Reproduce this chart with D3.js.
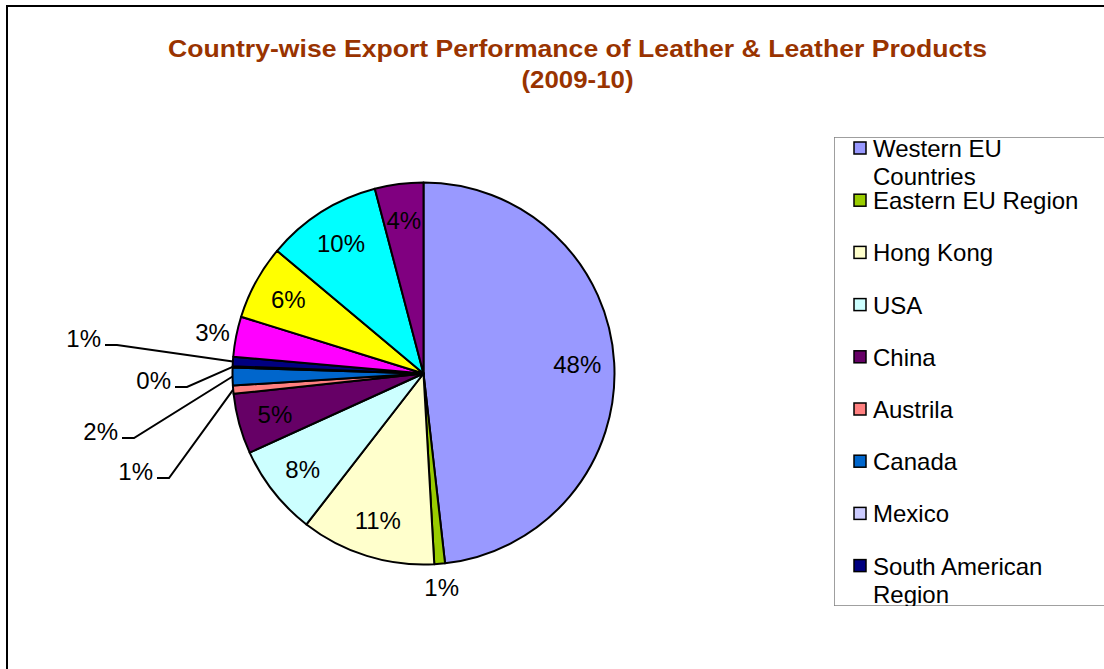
<!DOCTYPE html>
<html>
<head>
<meta charset="utf-8">
<script src="https://cdn.jsdelivr.net/npm/d3@7"></script>
<style>
  body { margin: 0; background: #fff; }
  svg { display: block; font-family: "Liberation Sans", Arial, sans-serif; }
</style>
</head>
<body>
<div id="chart-area"></div>
<script>
// data (percent share of exports)
const categories = ['Western EU Countries', 'Eastern EU Region', 'Hong Kong', 'USA', 'China',
    'Austrila', 'Canada', 'Mexico', 'South American Region', 'UAE', 'Japan',
    'Other Asian Countries', 'Others'];
const shares = [48.2, 0.9, 11.4, 7.7, 5.1, 0.7, 1.5, 0.1, 0.8, 3.4, 6.3, 9.8, 4.1];
const colors = ['#9999ff', '#99cc00', '#ffffcc', '#ccffff', '#660066', '#ff8080', '#0066cc',
    '#ccccff', '#000080', '#ff00ff', '#ffff00', '#00ffff', '#800080'];
const titleLines = ['Country-wise Export Performance of Leather & Leather Products', '(2009-10)'];

const width = 1104, height = 669;
const cx = 423.5, cy = 373.5, radius = 191;

// where excel put the labels that didn't fit inside
const outside = ['Eastern EU Region', 'UAE'];
const leaders = {
    'South American Region': [105, 345],
    'Mexico': [175, 387],
    'Canada': [122, 438],
    'Austrila': [157, 478]
};

const svg = d3.select('#chart-area')
    .append('svg')
        .attr('width', width)
        .attr('height', height);

// outer chart border
svg.append('rect')
    .attr('x', 7).attr('y', 6)
    .attr('width', width + 10).attr('height', height + 10)
    .attr('fill', 'none')
    .attr('stroke', '#000')
    .attr('stroke-width', 2);

// title
svg.selectAll('.title')
    .data(titleLines)
    .enter().append('text')
        .attr('class', 'title')
        .attr('x', 577.5)
        .attr('y', (d, i) => 57 + i * 31)
        .attr('text-anchor', 'middle')
        .attr('font-size', '24px')
        .attr('font-weight', 'bold')
        .attr('fill', '#993300')
        .attr('textLength', (d, i) => i === 0 ? 819 : 112)
        .attr('lengthAdjust', 'spacingAndGlyphs')
        .text(d => d);

const data = categories.map((c, i) => ({name: c, value: shares[i], color: colors[i]}));

const pie = d3.pie()
    .sort(null)
    .value(d => d.value);

const arc = d3.arc()
    .innerRadius(0)
    .outerRadius(radius);

const arcs = pie(data);

const g = svg.append('g')
    .attr('transform', `translate(${cx}, ${cy})`);

g.selectAll('path')
    .data(arcs)
    .enter().append('path')
        .attr('d', arc)
        .attr('fill', d => d.data.color)
        .attr('stroke', '#000')
        .attr('stroke-width', 2)
        .attr('stroke-linejoin', 'round');

const pct = d => Math.round(d.data.value) + '%';
const polar = (r, a) => [r * Math.sin(a), -r * Math.cos(a)];
const mid = d => (d.startAngle + d.endAngle) / 2;

// inside / outside labels
g.selectAll('.pct')
    .data(arcs.filter(d => !leaders[d.data.name]))
    .enter().append('text')
        .attr('class', 'pct')
        .attr('transform', d => {
            const r = outside.includes(d.data.name) ? radius + 24 : 154;
            const [x, y] = polar(r, mid(d));
            return `translate(${x}, ${y})`;
        })
        .attr('dy', '0.36em')
        .attr('text-anchor', 'middle')
        .attr('font-size', '24px')
        .attr('fill', '#000')
        .text(pct);

// labels with leader lines
const led = arcs.filter(d => leaders[d.data.name]);

g.selectAll('.leader')
    .data(led)
    .enter().append('polyline')
        .attr('class', 'leader')
        .attr('fill', 'none')
        .attr('stroke', '#000')
        .attr('stroke-width', 2)
        .attr('points', d => {
            const [lx, ly] = leaders[d.data.name];
            const [ex, ey] = polar(radius, mid(d));
            return [[lx - cx, ly - cy], [lx - cx + 12, ly - cy], [ex, ey]].join(' ');
        });

g.selectAll('.ltext')
    .data(led)
    .enter().append('text')
        .attr('class', 'ltext')
        .attr('x', d => leaders[d.data.name][0] - cx - 4)
        .attr('y', d => leaders[d.data.name][1] - cy + 2)
        .attr('text-anchor', 'end')
        .attr('font-size', '24px')
        .text(pct);

// legend box is too short for all entries, so the list gets cut like the original
const lx = 834, ly = 137, lh = 469;
const rowStep = 52.2, firstRow = 157;
const shown = data.filter((d, i) => firstRow + i * rowStep < ly + lh);

svg.append('clipPath')
    .attr('id', 'legend-clip')
    .append('rect')
        .attr('x', lx).attr('y', ly)
        .attr('width', width - lx).attr('height', lh);

const legend = svg.append('g')
    .attr('clip-path', 'url(#legend-clip)');

legend.append('rect')
    .attr('x', lx).attr('y', ly)
    .attr('width', width).attr('height', lh)
    .attr('fill', '#fff')
    .attr('stroke', '#808080')
    .attr('stroke-width', 1.5);

const items = legend.selectAll('.item')
    .data(shown)
    .enter().append('g')
        .attr('class', 'item')
        .attr('transform', (d, i) => `translate(0, ${firstRow + i * rowStep})`);

items.append('rect')
    .attr('x', 854).attr('y', -15)
    .attr('width', 12).attr('height', 12)
    .attr('fill', d => d.color)
    .attr('stroke', '#000')
    .attr('stroke-width', 1.5);

items.append('text')
    .attr('x', 873)
    .attr('font-size', '24px')
    .attr('fill', '#000')
    .each(function(d) {
        const t = d3.select(this);
        const words = d.name.split(' ');
        let line = [];
        let span = t.append('tspan').attr('x', 873).attr('dy', 0);
        words.forEach(w => {
            line.push(w);
            span.text(line.join(' '));
            if (span.node().getComputedTextLength() > 225 && line.length > 1) {
                line.pop();
                span.text(line.join(' '));
                line = [w];
                span = t.append('tspan').attr('x', 873).attr('dy', 28).text(w);
            }
        });
    });
</script>
</body>
</html>
